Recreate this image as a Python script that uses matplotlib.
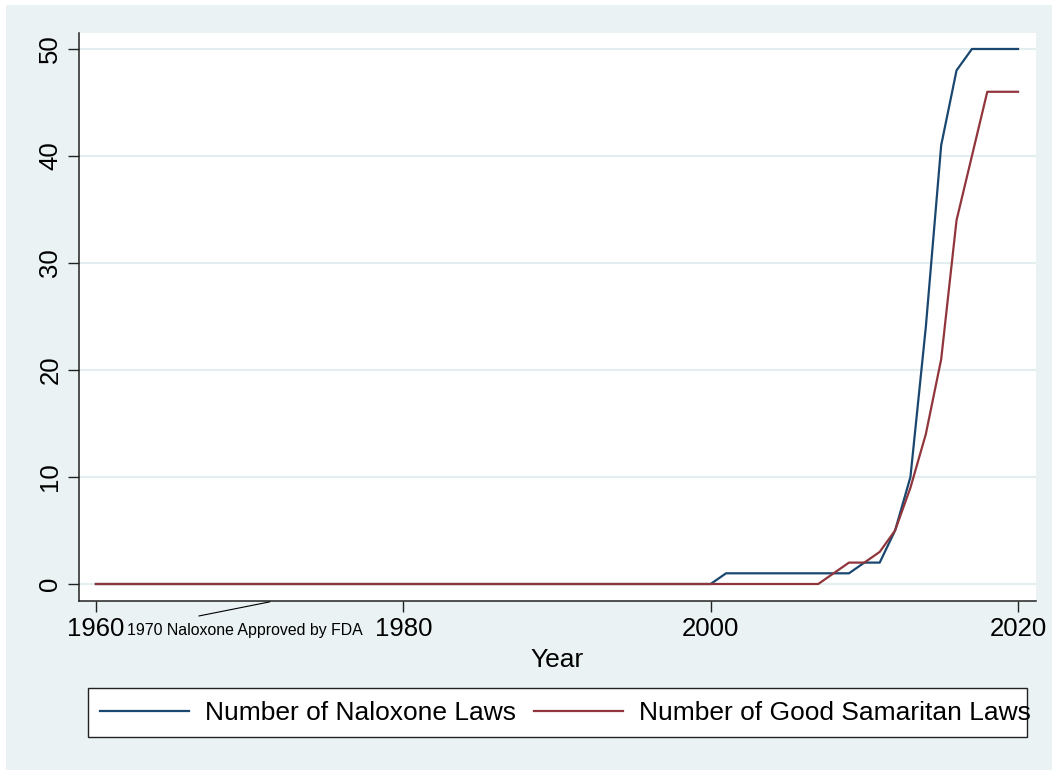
import matplotlib
matplotlib.use("Agg")
import matplotlib.pyplot as plt
from matplotlib.patches import Rectangle
from matplotlib.transforms import blended_transform_factory

plt.rcParams['font.family'] = ['Liberation Sans', 'DejaVu Sans']

years = list(range(1960, 2021))
naloxone_laws = [0, 0, 0, 0, 0, 0, 0, 0, 0, 0,   # 1960-1969
                 0, 0, 0, 0, 0, 0, 0, 0, 0, 0,   # 1970-1979
                 0, 0, 0, 0, 0, 0, 0, 0, 0, 0,   # 1980-1989
                 0, 0, 0, 0, 0, 0, 0, 0, 0, 0,   # 1990-1999
                 0, 1, 1, 1, 1, 1, 1, 1, 1, 1,   # 2000-2009
                 2, 2, 5, 10, 24, 41, 48, 50, 50, 50,  # 2010-2019
                 50]                              # 2020
good_samaritan_laws = [0, 0, 0, 0, 0, 0, 0, 0, 0, 0,
                       0, 0, 0, 0, 0, 0, 0, 0, 0, 0,
                       0, 0, 0, 0, 0, 0, 0, 0, 0, 0,
                       0, 0, 0, 0, 0, 0, 0, 0, 0, 0,
                       0, 0, 0, 0, 0, 0, 0, 0, 1, 2,
                       2, 3, 5, 9, 14, 21, 34, 40, 46, 46,
                       46]
series_labels = ["Number of Naloxone Laws", "Number of Good Samaritan Laws"]
x_ticks = [1960, 1980, 2000, 2020]
y_ticks = [0, 10, 20, 30, 40, 50]
annotation_year = 1970
annotation_text = "1970 Naloxone Approved by FDA"

W, H = 1052, 770
fig = plt.figure(figsize=(W / 100, H / 100), dpi=100)
fig.patch.set_facecolor('white')
BG = '#EAF2F3'
fig.patches.append(Rectangle((6 / W, 0), 1 - 6 / W, 1 - 5 / H, transform=fig.transFigure,
                             facecolor=BG, edgecolor='none', zorder=-10))

ax = fig.add_axes([79 / W, 1 - 600.7 / H, (1036 - 79) / W, (600.7 - 32.5) / H])
ax.set_zorder(2)
ax.set_facecolor('white')

navy = '#1A476F'
maroon = '#90353B'
l1, = ax.plot(years, naloxone_laws, color=navy, lw=1.6, label=series_labels[0], zorder=3)
l2, = ax.plot(years, good_samaritan_laws, color=maroon, lw=1.6, label=series_labels[1], zorder=3)

ax.set_xlim(1958.9, 2021.17)
ax.set_ylim(-1.56, 51.54)
ax.set_xticks(x_ticks)
ax.set_yticks(y_ticks)
ax.grid(axis='y', color='#E4EDEF', lw=1.6, zorder=0)
ax.set_axisbelow(True)

for s in ['top', 'right']:
    ax.spines[s].set_visible(False)
for s in ['left', 'bottom']:
    ax.spines[s].set_color('#222222')
    ax.spines[s].set_linewidth(1.1)

ax.tick_params(axis='both', direction='out', length=8, width=1.0, color='#222222',
               labelsize=18.5, labelcolor='black')
ax.tick_params(axis='x', pad=3.5)
ax.tick_params(axis='y', pad=4)
for lab in ax.get_yticklabels():
    lab.set_rotation(90)
    lab.set_va('center')
    lab.set_ha('right')

ax.set_xlabel('Year', fontsize=19)
ax.xaxis.set_label_coords(0.5, -0.1162)
ax.xaxis.label.set_va('baseline')

trans = blended_transform_factory(ax.transData, ax.transAxes)
ax.text(annotation_year - 0.3, -0.0604, annotation_text, transform=trans, ha='center', va='baseline',
        fontsize=11.4, clip_on=False)
ax.annotate('', xy=(1971.32, -0.002), xytext=(1966.70, -0.0269), xycoords=trans, textcoords=trans,
            arrowprops=dict(arrowstyle='-', color='black', lw=0.8, shrinkA=0, shrinkB=0))

# legend frame
fig.patches.append(Rectangle((88 / W, 1 - 737 / H), (1026.7 - 88) / W, (737 - 687.7) / H,
                             transform=fig.transFigure, facecolor='white', edgecolor='#222222',
                             lw=1.0, zorder=1))
fig.legend(handles=[l1, l2], labels=series_labels, ncol=2, frameon=False, loc='center left',
           bbox_to_anchor=(100 / W, 1 - 713.5 / H), borderpad=0, fontsize=19,
           handlelength=3.38, handletextpad=0.6, columnspacing=0.69, borderaxespad=0)

fig.savefig('out.png', dpi=100, facecolor=fig.get_facecolor())
